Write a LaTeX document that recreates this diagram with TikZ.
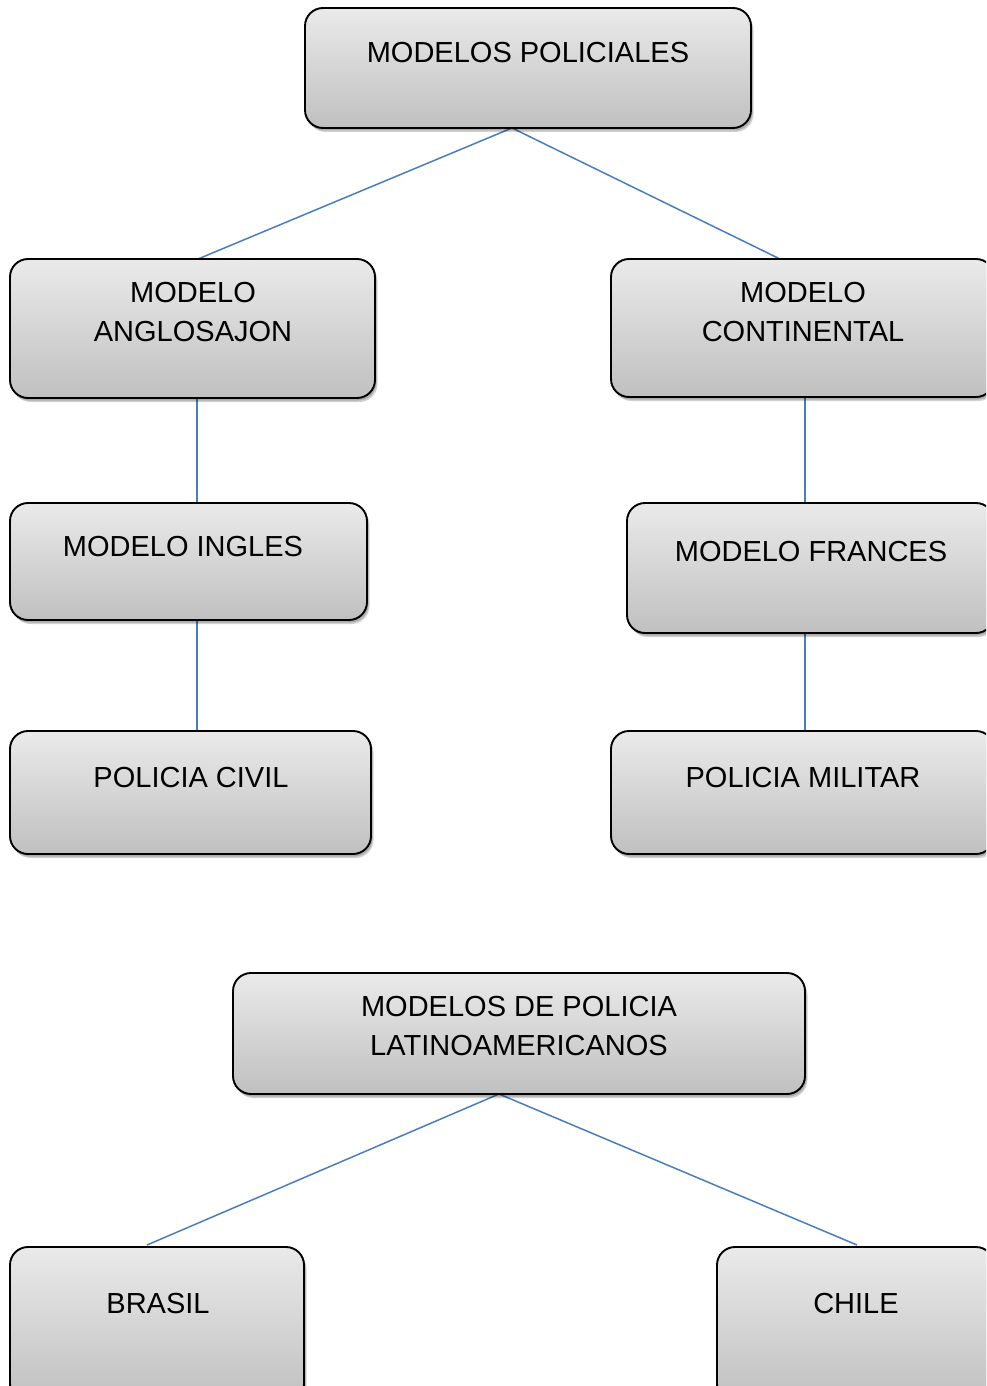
\documentclass[tikz,border=0pt]{standalone}
\usepackage{fontspec}
\setmainfont{Liberation Sans}
\usetikzlibrary{shadows}
\definecolor{boxtop}{RGB}{234,234,234}
\definecolor{boxbot}{RGB}{192,192,192}
\definecolor{linkblue}{RGB}{74,126,187}
\newcommand\lbfont{\fontsize{29}{39}\selectfont}
\newcommand\mybox[5]{\node[box, minimum width={(#4-#2)*1pt}, minimum height={(#5-#3)*1pt}] (#1) at ({(#2+#4)/2},{-(#3+#5)/2}) {};}
\tikzset{
  box/.style={draw=black, line width=1.9pt, rounded corners=18pt, inner sep=0pt, top color=boxtop, bottom color=boxbot,
    drop shadow={shadow xshift=2.5pt, shadow yshift=-4pt, opacity=0.18, fill=black},
    drop shadow={shadow xshift=1.5pt, shadow yshift=-2.5pt, opacity=0.18, fill=black}},
  lbl/.style={font=\lbfont, align=center, inner sep=0pt, text=black},
  link/.style={draw=linkblue, line width=1.5pt}
}
\begin{document}
\begin{tikzpicture}[x=1pt,y=1pt]
\useasboundingbox (0,0) rectangle (986,-1386);
\clip (0,0) rectangle (986,-1386);
\fill[white] (0,0) rectangle (986,-1386);
% connectors first (behind boxes)
\coordinate (top-b) at (512,-128);
\coordinate (ang-t) at (198,-259);
\coordinate (con-t) at (780,-259);
\coordinate (ang-b) at (197,-398);
\coordinate (ing-t) at (197,-503);
\coordinate (ing-b) at (197,-620);
\coordinate (civ-t) at (197,-731);
\coordinate (con-b) at (805,-397);
\coordinate (fra-t) at (805,-503);
\coordinate (fra-b) at (805,-633);
\coordinate (mil-t) at (805,-731);
\coordinate (lat-b) at (499,-1094);
\coordinate (bra-t) at (147,-1245);
\coordinate (chi-t) at (857,-1245);
\draw[link] (top-b) -- (ang-t);
\draw[link] (top-b) -- (con-t);
\draw[link] (ang-b) -- (ing-t);
\draw[link] (ing-b) -- (civ-t);
\draw[link] (con-b) -- (fra-t);
\draw[link] (fra-b) -- (mil-t);
\draw[link] (lat-b) -- (bra-t);
\draw[link] (lat-b) -- (chi-t);
% boxes
\mybox{top}{305}{8}{751}{128}
\mybox{ang}{10}{259}{375}{398}
\mybox{con}{611}{259}{994}{397}
\mybox{ing}{10}{503}{367}{620}
\mybox{fra}{627}{503}{994}{633}
\mybox{civ}{10}{731}{371}{854}
\mybox{mil}{611}{731}{994}{854}
\mybox{lat}{233}{973}{805}{1094}
\mybox{bra}{10}{1247}{304}{1402}
\mybox{chi}{717}{1247}{994}{1402}
% labels
\node[lbl] (top-l) at (528,-53) {MODELOS POLICIALES};
\node[lbl] (ang-l) at (193,-312.5) {MODELO\\ANGLOSAJON};
\node[lbl] (con-l) at (803,-312.5) {MODELO\\CONTINENTAL};
\node[lbl] (ing-l) at (183,-547) {MODELO INGLES};
\node[lbl] (fra-l) at (811,-552) {MODELO FRANCES};
\node[lbl] (civ-l) at (191,-778) {POLICIA CIVIL};
\node[lbl] (mil-l) at (803,-778) {POLICIA MILITAR};
\node[lbl] (lat-l) at (519,-1026.5) {MODELOS DE POLICIA\\LATINOAMERICANOS};
\node[lbl] (bra-l) at (158,-1304) {BRASIL};
\node[lbl] (chi-l) at (856,-1304) {CHILE};
\end{tikzpicture}
\end{document}
